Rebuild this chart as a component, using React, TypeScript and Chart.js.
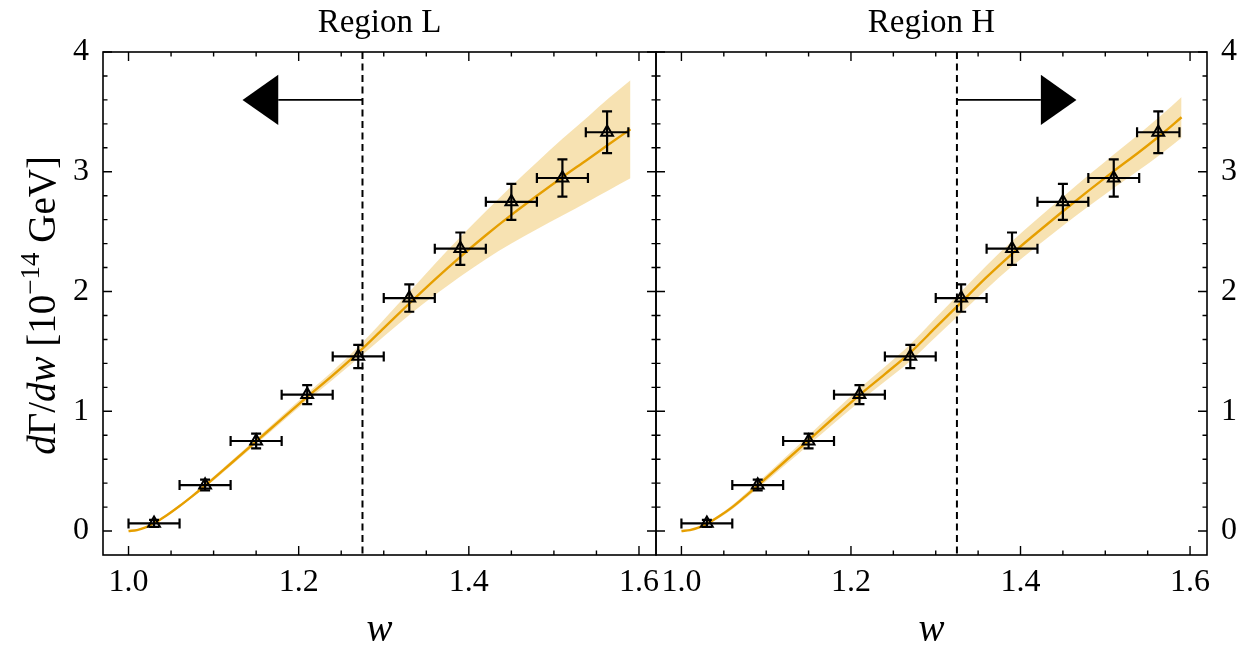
import React, { useEffect, useRef } from "react";
import { Chart, registerables } from "chart.js";

Chart.register(...registerables);

// ---------------- data ----------------
const curveW = [1.0, 1.01, 1.02, 1.03, 1.045, 1.06, 1.075, 1.09, 1.12, 1.15, 1.18, 1.21, 1.24, 1.27, 1.3, 1.33, 1.36, 1.39, 1.42, 1.45, 1.48, 1.51, 1.54, 1.565, 1.59];
// fit using Region L data (extrapolated above the cut)
const fitL = [0, 0.008, 0.03, 0.065, 0.132, 0.209, 0.292, 0.378, 0.562, 0.748, 0.935, 1.12, 1.3, 1.49, 1.695, 1.9, 2.1, 2.29, 2.47, 2.64, 2.8, 2.955, 3.105, 3.232, 3.355];
const bandL = [0, 0.002, 0.004, 0.006, 0.008, 0.01, 0.012, 0.014, 0.018, 0.022, 0.026, 0.03, 0.036, 0.048, 0.07, 0.095, 0.13, 0.165, 0.2, 0.24, 0.28, 0.32, 0.355, 0.385, 0.41];
// fit using Region H data
const fitH = [0, 0.008, 0.028, 0.06, 0.125, 0.2, 0.288, 0.38, 0.568, 0.758, 0.948, 1.135, 1.31, 1.49, 1.7, 1.91, 2.12, 2.315, 2.495, 2.67, 2.84, 3.005, 3.165, 3.305, 3.455];
const bandH = [0, 0.003, 0.006, 0.009, 0.013, 0.017, 0.021, 0.025, 0.032, 0.04, 0.048, 0.055, 0.062, 0.07, 0.08, 0.09, 0.098, 0.105, 0.113, 0.12, 0.13, 0.14, 0.15, 0.16, 0.17];

const binCenters = [1.03, 1.09, 1.15, 1.21, 1.27, 1.33, 1.39, 1.45, 1.51, 1.5625];
const binHalfWidths = [0.03, 0.03, 0.03, 0.03, 0.03, 0.03, 0.03, 0.03, 0.03, 0.025];
const rateValues = [0.064, 0.384, 0.752, 1.139, 1.458, 1.945, 2.358, 2.749, 2.948, 3.33];
const rateErrors = [0.03, 0.045, 0.061, 0.079, 0.097, 0.114, 0.135, 0.15, 0.156, 0.174];

const xMajorTicks = [1.0, 1.2, 1.4, 1.6];
const xMinorTicks = [1.05, 1.1, 1.15, 1.25, 1.3, 1.35, 1.45, 1.5, 1.55];
const yMajorTicks = [0, 1, 2, 3, 4];
const yMinorTicks = [0.2, 0.4, 0.6, 0.8, 1.2, 1.4, 1.6, 1.8, 2.2, 2.4, 2.6, 2.8, 3.2, 3.4, 3.6, 3.8];

const panelTitles = ["Region L", "Region H"];
const cutW = [1.275, 1.325];
const arrowY = 3.6;
const arrowTipW = [1.134, 1.466];
const arrowHeadLen = 0.042;
const arrowHeadHalf = 0.21;

const xLabel = "w";
const yLabelParts = [
  { t: "d", style: "italic", sup: false },
  { t: "Γ", style: "normal", sup: false },
  { t: "/", style: "normal", sup: false },
  { t: "dw", style: "italic", sup: false },
  { t: " [10", style: "normal", sup: false },
  { t: "−14", style: "normal", sup: true },
  { t: " GeV]", style: "normal", sup: false },
];

const X_MIN = 0.97;
const X_MAX = 1.62;
const Y_MIN = -0.2;
const Y_MAX = 4.0;

const ORANGE = "#E69F00";
const BAND = "rgba(230,159,0,0.3)";
const FONT = "'Liberation Serif', 'DejaVu Serif', serif";
const W = 1242;
const H = 649;

function makePanel(canvas: HTMLCanvasElement, panel: number) {
  const fit = panel === 0 ? fitL : fitH;
  const band = panel === 0 ? bandL : bandH;
  const upper = curveW.map((w, i) => ({ x: w, y: fit[i] + band[i] }));
  const lower = curveW.map((w, i) => ({ x: w, y: fit[i] - band[i] }));
  const line = curveW.map((w, i) => ({ x: w, y: fit[i] }));
  const pts = binCenters.map((w, i) => ({ x: w, y: rateValues[i] }));

  const plugin = {
    id: "panelDecor" + panel,
    beforeDatasetDraw(chart: any, args: any) {
      if (args.index !== 3) return;
      const ctx = chart.ctx;
      const xs = chart.scales.x;
      const ys = chart.scales.y;
      ctx.save();
      ctx.strokeStyle = "#000";
      ctx.lineWidth = 2.2;
      const cap = 5;
      for (let i = 0; i < binCenters.length; i++) {
        const cx = xs.getPixelForValue(binCenters[i]);
        const cy = ys.getPixelForValue(rateValues[i]);
        const x0 = xs.getPixelForValue(binCenters[i] - binHalfWidths[i]);
        const x1 = xs.getPixelForValue(binCenters[i] + binHalfWidths[i]);
        const y0 = ys.getPixelForValue(rateValues[i] - rateErrors[i]);
        const y1 = ys.getPixelForValue(rateValues[i] + rateErrors[i]);
        ctx.beginPath();
        ctx.moveTo(x0, cy); ctx.lineTo(x1, cy);
        ctx.moveTo(cx, y0); ctx.lineTo(cx, y1);
        ctx.moveTo(x0, cy - cap); ctx.lineTo(x0, cy + cap);
        ctx.moveTo(x1, cy - cap); ctx.lineTo(x1, cy + cap);
        ctx.moveTo(cx - cap, y0); ctx.lineTo(cx + cap, y0);
        ctx.moveTo(cx - cap, y1); ctx.lineTo(cx + cap, y1);
        ctx.stroke();
      }
      ctx.restore();
    },
    afterDatasetsDraw(chart: any) {
      const ctx = chart.ctx;
      const xs = chart.scales.x;
      const ys = chart.scales.y;
      const { top, bottom } = chart.chartArea;
      const xc = xs.getPixelForValue(cutW[panel]);
      ctx.save();
      ctx.strokeStyle = "#000";
      ctx.lineWidth = 2;
      ctx.setLineDash([7, 4.5]);
      ctx.beginPath();
      ctx.moveTo(xc, top);
      ctx.lineTo(xc, bottom);
      ctx.stroke();
      ctx.setLineDash([]);
      const dir = panel === 0 ? -1 : 1;
      const tip = arrowTipW[panel];
      const base = tip - dir * arrowHeadLen;
      const ay = ys.getPixelForValue(arrowY);
      ctx.lineWidth = 1.6;
      ctx.beginPath();
      ctx.moveTo(xc, ay);
      ctx.lineTo(xs.getPixelForValue(base), ay);
      ctx.stroke();
      ctx.fillStyle = "#000";
      ctx.beginPath();
      ctx.moveTo(xs.getPixelForValue(tip), ay);
      ctx.lineTo(xs.getPixelForValue(base), ys.getPixelForValue(arrowY + arrowHeadHalf));
      ctx.lineTo(xs.getPixelForValue(base), ys.getPixelForValue(arrowY - arrowHeadHalf));
      ctx.closePath();
      ctx.fill();
      ctx.restore();
    },
    afterDraw(chart: any) {
      const ctx = chart.ctx;
      const xs = chart.scales.x;
      const ys = chart.scales.y;
      const { left, right, top, bottom } = chart.chartArea;
      ctx.save();
      ctx.strokeStyle = "#000";
      ctx.lineWidth = 1.6;
      ctx.strokeRect(left, top, right - left, bottom - top);
      ctx.lineWidth = 1.4;
      ctx.beginPath();
      const tx = (vals: number[], len: number) => {
        for (const v of vals) {
          const px = xs.getPixelForValue(v);
          ctx.moveTo(px, bottom); ctx.lineTo(px, bottom - len);
          ctx.moveTo(px, top); ctx.lineTo(px, top + len);
        }
      };
      const ty = (vals: number[], len: number) => {
        for (const v of vals) {
          const py = ys.getPixelForValue(v);
          ctx.moveTo(left, py); ctx.lineTo(left + len, py);
          ctx.moveTo(right, py); ctx.lineTo(right - len, py);
        }
      };
      tx(xMajorTicks, 9); tx(xMinorTicks, 4.5);
      ty(yMajorTicks, 9); ty(yMinorTicks, 4.5);
      ctx.stroke();

      // title
      ctx.fillStyle = "#000";
      ctx.textAlign = "center";
      ctx.textBaseline = "alphabetic";
      ctx.font = `33px ${FONT}`;
      const mid = (left + right) / 2;
      ctx.fillText(panelTitles[panel], mid, 32);
      // x label
      ctx.font = `italic 39px ${FONT}`;
      ctx.fillText(xLabel, mid, 641);

      if (panel === 0) {
        const size = 39;
        const supSize = Math.round(size * 0.7);
        const fontOf = (p: any) => `${p.style === "italic" ? "italic " : ""}${p.sup ? supSize : size}px ${FONT}`;
        let total = 0;
        const widths = yLabelParts.map((p) => {
          ctx.font = fontOf(p);
          const w = ctx.measureText(p.t).width;
          total += w;
          return w;
        });
        ctx.translate(55, (top + bottom) / 2 + 2);
        ctx.rotate(-Math.PI / 2);
        ctx.textAlign = "left";
        let x = -total / 2;
        yLabelParts.forEach((p, i) => {
          ctx.font = fontOf(p);
          ctx.fillText(p.t, x, p.sup ? -size * 0.42 : 0);
          x += widths[i];
        });
      }
      ctx.restore();
    },
  };

  const tickFont = { family: FONT, size: 32 };

  return new Chart(canvas, {
    type: "line",
    data: {
      datasets: [
        { data: upper, borderWidth: 0, pointRadius: 0, fill: "+1", backgroundColor: BAND, borderColor: "rgba(0,0,0,0)", cubicInterpolationMode: "monotone", order: 3 },
        { data: lower, borderWidth: 0, pointRadius: 0, fill: false, borderColor: "rgba(0,0,0,0)", cubicInterpolationMode: "monotone", order: 2 },
        { data: line, borderWidth: 2.4, pointRadius: 0, fill: false, borderColor: ORANGE, cubicInterpolationMode: "monotone", order: 1 },
        {
          data: pts,
          showLine: false,
          pointStyle: "triangle",
          pointRadius: 6.8,
          pointBorderWidth: 2,
          pointBorderColor: "#000",
          pointBackgroundColor: "rgba(0,0,0,0)",
          borderColor: "#000",
          order: 0,
        },
      ],
    } as any,
    options: {
      responsive: false,
      devicePixelRatio: 1,
      animation: false,
      events: [],
      layout: {
        padding: panel === 0 ? { left: 0, right: W - 656, top: 52, bottom: 0 } : { left: 656, right: 0, top: 52, bottom: 0 },
      },
      plugins: { legend: { display: false }, tooltip: { enabled: false } },
      scales: {
        x: {
          type: "linear",
          min: X_MIN,
          max: X_MAX,
          grid: { display: false, drawTicks: false },
          border: { display: false },
          ticks: {
            color: "#000",
            font: tickFont,
            padding: 8,
            maxRotation: 0,
            autoSkip: false,
            callback: (v: any) => Number(v).toFixed(1),
          },
          afterBuildTicks: (s: any) => {
            s.ticks = xMajorTicks.map((v) => ({ value: v }));
          },
          afterFit: (s: any) => {
            s.height = 94;
          },
        },
        y: {
          type: "linear",
          position: panel === 0 ? "left" : "right",
          min: Y_MIN,
          max: Y_MAX,
          grid: { display: false, drawTicks: false },
          border: { display: false },
          ticks: {
            color: "#000",
            font: tickFont,
            padding: 14,
            callback: (v: any) => String(v),
          },
          afterBuildTicks: (s: any) => {
            s.ticks = yMajorTicks.map((v) => ({ value: v }));
          },
          afterFit: (s: any) => {
            s.width = panel === 0 ? 103 : 35;
          },
        },
      },
    } as any,
    plugins: [plugin],
  });
}

export default function App() {
  const leftRef = useRef<HTMLCanvasElement>(null);
  const rightRef = useRef<HTMLCanvasElement>(null);

  useEffect(() => {
    const a = makePanel(leftRef.current!, 0);
    const b = makePanel(rightRef.current!, 1);
    return () => {
      a.destroy();
      b.destroy();
    };
  }, []);

  const cs: React.CSSProperties = { position: "absolute", left: 0, top: 0, width: W, height: H };
  return (
    <div style={{ position: "fixed", left: 0, top: 0, width: W, height: H, background: "#fff" }}>
      <canvas ref={leftRef} width={W} height={H} style={cs} />
      <canvas ref={rightRef} width={W} height={H} style={cs} />
    </div>
  );
}
